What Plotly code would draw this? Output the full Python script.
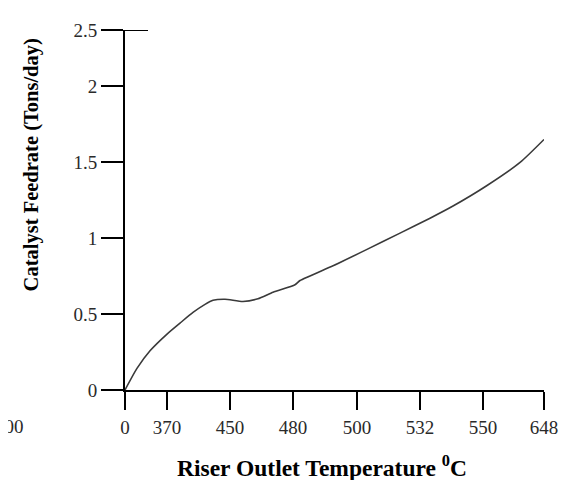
import plotly.graph_objects as go

# Curve (x in category-position units, y in Tons/day)
pos = [0, 0.19, 0.397, 0.667, 0.873, 1.079, 1.27, 1.397, 1.587, 1.873, 2.11,
       2.35, 2.698, 2.778, 3.302, 3.841, 4.365, 4.841, 5.206, 5.746, 6.27, 6.65]
feedrate = [0, 0.142, 0.258, 0.368, 0.44, 0.51, 0.563, 0.59, 0.597, 0.582, 0.60,
            0.643, 0.692, 0.72, 0.817, 0.925, 1.032, 1.13, 1.21, 1.345, 1.497, 1.648]

x_tick_pos = [0, 0.667, 1.667, 2.667, 3.683, 4.683, 5.683, 6.65]
x_tick_labels = ["0", "370", "450", "480", "500", "532", "550", "648"]

y_tick_vals = [0, 0.5, 1, 1.5, 2, 2.368]
y_tick_labels = ["0", "0.5", "1", "1.5", "2", "2.5"]

FONT = "Liberation Serif, Times New Roman, serif"
TICK_COLOR = "#2a2a2a"

fig = go.Figure()
fig.add_trace(go.Scatter(
    x=pos, y=feedrate, mode="lines",
    line=dict(color="#3a3a3a", width=1.6, shape="spline", smoothing=0.6),
    showlegend=False, hoverinfo="skip",
))

fig.update_layout(
    width=563, height=472,
    margin=dict(l=117, r=27, t=15, b=90),
    paper_bgcolor="white", plot_bgcolor="white",
    font=dict(family=FONT, size=19, color=TICK_COLOR),
    xaxis=dict(
        range=[0, 6.65], showgrid=False, zeroline=False,
        showline=True, linecolor="black", linewidth=2,
        tickmode="array", tickvals=x_tick_pos, ticktext=x_tick_labels,
        ticks="outside", ticklen=18, tickwidth=2, tickcolor="black",
        tickfont=dict(family=FONT, size=19, color=TICK_COLOR),
        ticklabelstandoff=1,
    ),
    yaxis=dict(
        range=[0, 2.368], showgrid=False, zeroline=False,
        showline=True, linecolor="black", linewidth=2,
        tickmode="array", tickvals=y_tick_vals, ticktext=y_tick_labels,
        ticks="outside", ticklen=22, tickwidth=2, tickcolor="black",
        tickfont=dict(family=FONT, size=19, color=TICK_COLOR),
    ),
    shapes=[dict(type="line", xref="x", yref="y", x0=0, x1=0.365,
                 y0=2.368, y1=2.368, line=dict(color="black", width=2))],
    annotations=[
        dict(text="<b>Catalyst Feedrate (Tons/day)</b>", textangle=-90,
             xref="paper", yref="paper", x=-0.2243, y=0.624,
             showarrow=False, font=dict(family=FONT, size=20.5, color="black"),
             xanchor="center", yanchor="middle"),
        dict(text="<b>Riser Outlet Temperature <sup>0</sup>C</b>",
             xref="paper", yref="paper", x=0.470, y=-0.2125,
             showarrow=False, font=dict(family=FONT, size=23.5, color="black"),
             xanchor="center", yanchor="middle"),
        dict(text="300", xref="paper", yref="paper", x=-0.2363, y=-0.1008,
             showarrow=False, font=dict(family=FONT, size=19, color=TICK_COLOR),
             xanchor="right", yanchor="middle"),
    ],
)

fig.write_html("out.html")
